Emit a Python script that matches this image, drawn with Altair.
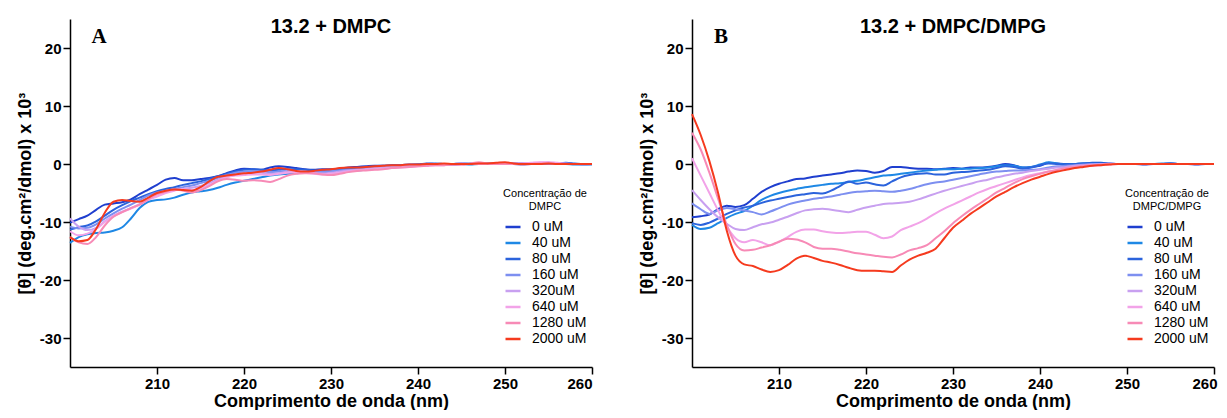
import altair as alt
import pandas as pd

wavelengths = list(range(200, 261))
concentrations = ["0 uM", "40 uM", "80 uM", "160 uM", "320uM", "640 uM", "1280 uM", "2000 uM"]
colors = ["#1f3fcf", "#1e88e5", "#2b63dc", "#7d8ff0", "#c8a0f0", "#f2a3e8", "#f78ab6", "#f53a1e"]

# Panel A: 13.2 + DMPC
A0 = [-10.1,-9.5,-8.9,-7.9,-7.0,-6.8,-6.6,-6.1,-5.2,-4.4,
      -3.6,-2.7,-2.4,-2.8,-2.8,-2.6,-2.4,-2.1,-1.6,-1.1,
      -0.8,-0.9,-1.0,-0.6,-0.4,-0.5,-0.7,-0.9,-1.0,-0.9,
      -0.9,-0.8,-0.6,-0.5,-0.4,-0.3,-0.3,-0.2,-0.2,-0.1,
      -0.1,0.1,0.0,-0.1,0.0,0.1,0.0,0.0,0.1,0.0,
      0.0,0.1,0.1,0.0,0.1,0.2,0.1,0.1,0.0,0.0,0.0]
A40 = [-13.6,-12.6,-12.1,-11.9,-11.8,-11.5,-10.9,-9.4,-7.6,-6.5,
       -6.2,-6.1,-5.8,-5.3,-4.9,-4.7,-4.5,-4.1,-3.6,-3.2,
       -2.9,-2.6,-2.3,-2.0,-1.8,-1.7,-1.6,-1.5,-1.5,-1.4,
       -1.4,-1.3,-1.2,-1.1,-1.0,-0.8,-0.6,-0.5,-0.4,-0.3,
       -0.3,-0.2,-0.1,-0.1,0.0,0.0,-0.1,0.0,0.0,0.1,
       0.0,0.0,-0.1,0.0,0.0,0.1,0.0,0.0,-0.1,-0.1,-0.1]
A80 = [-11.3,-10.9,-10.6,-9.9,-8.9,-7.9,-7.1,-6.4,-5.8,-5.2,
       -4.7,-4.3,-4.0,-3.6,-3.3,-3.0,-2.6,-2.1,-1.7,-1.3,
       -1.0,-0.9,-1.0,-1.1,-1.0,-0.9,-0.9,-1.0,-1.1,-1.1,
       -1.0,-0.9,-0.8,-0.7,-0.5,-0.4,-0.3,-0.3,-0.2,-0.2,
       -0.1,0.0,0.1,0.0,-0.1,0.0,0.1,0.1,0.0,0.0,
       0.1,0.0,0.0,0.1,0.1,0.0,0.1,0.2,0.1,0.0,0.0]
A160 = [-10.8,-11.1,-11.0,-10.4,-9.4,-8.5,-7.7,-7.0,-6.2,-5.4,
        -4.9,-4.6,-4.3,-4.0,-3.7,-3.3,-2.9,-2.4,-1.9,-1.5,
        -1.3,-1.2,-1.3,-1.4,-1.3,-1.2,-1.3,-1.4,-1.4,-1.3,
        -1.2,-1.1,-1.0,-0.9,-0.7,-0.6,-0.5,-0.4,-0.3,-0.3,
        -0.2,-0.1,0.0,0.0,-0.1,0.0,0.0,0.1,0.0,0.0,
        0.0,0.1,0.0,0.0,0.1,0.1,0.0,0.0,0.0,-0.1,0.0]
A320 = [-9.4,-10.8,-11.4,-11.0,-9.9,-8.9,-8.2,-7.6,-6.9,-6.0,
        -5.2,-4.8,-4.5,-4.3,-4.1,-3.8,-3.3,-2.7,-2.2,-1.9,
        -1.7,-1.5,-1.5,-1.7,-1.6,-1.3,-1.2,-1.3,-1.5,-1.6,
        -1.5,-1.3,-1.1,-1.0,-0.9,-0.7,-0.6,-0.5,-0.4,-0.3,
        -0.2,-0.1,-0.1,0.0,0.0,0.1,0.0,0.0,0.0,0.1,
        0.0,0.0,0.1,0.1,0.2,0.2,0.1,0.0,0.0,0.0,0.0]
A640 = [-11.6,-12.3,-12.0,-11.2,-10.0,-9.0,-8.3,-7.7,-7.0,-6.2,
        -5.6,-5.0,-4.6,-4.3,-4.5,-4.2,-3.6,-2.9,-2.3,-2.0,
        -1.9,-1.8,-1.8,-1.9,-1.7,-1.5,-1.4,-1.5,-1.7,-1.8,
        -1.7,-1.5,-1.3,-1.1,-1.0,-0.9,-0.8,-0.7,-0.6,-0.5,
        -0.4,-0.3,-0.2,-0.2,-0.1,-0.1,0.0,0.0,0.0,0.0,
        0.0,0.1,0.1,0.2,0.3,0.3,0.2,0.1,0.0,0.0,0.0]
A1280 = [-12.6,-13.5,-13.8,-12.6,-10.6,-9.1,-8.3,-7.6,-7.0,-6.1,
         -5.2,-4.8,-4.4,-4.6,-4.9,-4.5,-3.8,-3.0,-2.6,-2.7,
         -2.9,-2.8,-2.9,-3.1,-2.6,-2.0,-1.7,-1.6,-1.6,-1.8,
         -1.9,-1.7,-1.4,-1.2,-1.1,-1.0,-0.9,-0.7,-0.6,-0.5,
         -0.4,-0.3,-0.2,-0.2,-0.1,-0.1,0.1,0.3,0.1,0.0,
         0.0,0.0,-0.1,0.0,0.1,0.1,0.0,0.0,0.0,0.0,0.0]
A2000 = [-12.6,-13.3,-13.1,-11.2,-8.4,-6.5,-6.2,-6.4,-6.5,-5.8,
         -5.0,-4.6,-4.4,-4.5,-4.6,-4.0,-3.0,-2.2,-2.0,-1.8,
         -1.6,-1.5,-1.3,-1.0,-0.7,-0.9,-1.2,-1.3,-1.2,-1.0,
         -0.9,-0.7,-0.6,-0.6,-0.5,-0.4,-0.3,-0.2,-0.2,-0.1,
         -0.1,0.0,0.0,0.1,0.0,0.0,0.0,0.1,0.1,0.2,
         0.3,0.1,0.0,0.0,0.0,0.1,0.0,0.0,0.0,0.0,0.0]

# Panel B: 13.2 + DMPC/DMPG
B0 = [-9.2,-9.0,-8.7,-7.8,-7.2,-7.4,-7.1,-6.0,-4.8,-4.0,
      -3.4,-3.0,-2.6,-2.5,-2.2,-2.0,-1.8,-1.6,-1.3,-1.1,
      -1.2,-1.5,-1.2,-0.5,-0.5,-0.7,-0.8,-0.8,-0.9,-0.8,
      -0.7,-0.8,-0.6,-0.6,-0.5,-0.3,0.0,-0.2,-0.6,-0.5,
      -0.3,0.2,0.1,0.0,0.0,0.1,0.2,0.2,0.1,0.0,
      0.0,0.0,-0.1,0.0,0.0,0.1,0.0,0.0,-0.1,0.0,0.0]
B40 = [-10.5,-11.2,-11.0,-10.2,-9.3,-8.6,-8.1,-7.2,-6.2,-5.5,
       -5.0,-4.6,-4.3,-4.0,-3.8,-3.6,-3.4,-3.3,-3.1,-2.9,
       -2.6,-2.3,-2.0,-1.9,-1.7,-1.5,-1.3,-1.1,-1.0,-0.9,
       -0.9,-0.8,-0.8,-0.7,-0.6,-0.4,-0.2,-0.3,-0.6,-0.5,
       -0.1,0.3,0.1,-0.1,0.0,0.1,0.1,0.1,0.0,0.0,
       0.0,0.0,0.0,0.0,0.1,0.1,0.0,0.0,0.0,0.0,0.0]
B80 = [-10.2,-10.5,-10.1,-9.4,-8.6,-8.0,-7.5,-7.2,-6.7,-6.3,
       -6.0,-5.7,-5.4,-5.2,-5.0,-5.1,-4.6,-3.8,-3.0,-3.4,
       -3.2,-3.5,-3.7,-3.0,-2.3,-1.9,-1.7,-1.6,-1.8,-1.8,
       -1.5,-1.4,-1.3,-1.1,-1.0,-0.7,-0.4,-0.5,-0.8,-0.6,
       -0.2,0.1,0.0,-0.1,0.0,0.1,0.1,0.0,0.0,0.0,
       0.0,0.0,0.0,0.0,0.0,0.1,0.0,0.0,0.0,0.0,0.0]
B160 = [-6.8,-7.8,-8.6,-8.0,-7.6,-7.8,-8.0,-8.3,-8.7,-8.2,
        -7.6,-7.0,-6.6,-6.3,-6.0,-5.8,-5.6,-5.3,-5.0,-4.8,
        -4.7,-4.6,-4.7,-4.8,-4.6,-4.3,-3.9,-3.5,-3.2,-3.0,
        -2.7,-2.4,-2.1,-1.8,-1.5,-1.3,-1.2,-1.1,-1.1,-1.0,
        -0.9,-0.6,-0.4,-0.3,-0.2,-0.1,0.0,0.0,0.1,0.0,
        0.0,0.0,0.0,0.0,0.0,0.0,0.0,0.0,0.0,0.0,0.0]
B320 = [-4.5,-6.2,-7.8,-9.2,-10.3,-11.2,-11.4,-10.9,-10.4,-10.1,
        -9.6,-9.1,-8.5,-8.0,-7.8,-7.7,-7.9,-8.1,-8.3,-7.9,
        -7.5,-7.2,-6.9,-6.8,-6.7,-6.5,-6.1,-5.6,-5.1,-4.6,
        -4.2,-3.8,-3.4,-3.0,-2.7,-2.3,-2.0,-1.7,-1.5,-1.2,
        -1.0,-0.8,-0.6,-0.5,-0.3,-0.2,-0.1,0.0,0.0,0.0,
        0.0,0.0,0.0,0.0,0.0,0.0,0.0,0.0,0.0,0.0,0.0]
B640 = [1.0,-2.0,-5.0,-8.0,-10.8,-12.8,-13.5,-13.1,-13.5,-14.0,
        -13.4,-12.6,-11.7,-11.3,-11.3,-11.6,-11.8,-11.9,-11.8,-11.7,
        -11.7,-12.2,-12.8,-12.5,-11.4,-10.8,-10.2,-9.4,-8.5,-7.7,
        -7.0,-6.3,-5.6,-4.9,-4.3,-3.8,-3.3,-2.8,-2.3,-1.9,
        -1.6,-1.3,-1.0,-0.8,-0.6,-0.4,-0.3,-0.2,-0.1,0.0,
        0.0,0.0,0.0,0.0,0.0,0.0,0.0,0.0,0.0,0.0,0.0]
B1280 = [5.4,2.5,-1.5,-6.0,-10.5,-13.8,-14.9,-14.8,-14.4,-14.0,
         -13.4,-12.9,-13.0,-13.5,-14.3,-14.6,-14.6,-14.8,-15.1,-15.4,
         -15.6,-15.8,-16.0,-16.1,-15.6,-14.9,-14.5,-14.0,-12.8,-11.6,
         -10.2,-9.0,-7.9,-6.9,-5.9,-4.9,-4.1,-3.3,-2.6,-2.1,
         -1.7,-1.3,-1.0,-0.7,-0.5,-0.3,-0.2,-0.1,0.0,0.0,
         0.0,0.0,0.0,0.0,0.0,0.0,0.0,0.0,0.0,0.0,0.0]
B2000 = [8.6,5.0,0.5,-5.0,-11.5,-15.8,-17.3,-17.6,-18.2,-18.6,
         -18.3,-17.4,-16.3,-15.8,-16.2,-16.7,-17.0,-17.4,-17.9,-18.3,
         -18.4,-18.4,-18.5,-18.6,-17.5,-16.5,-15.8,-15.3,-14.6,-12.8,
         -11.0,-9.8,-8.6,-7.6,-6.6,-5.6,-4.8,-4.0,-3.3,-2.7,
         -2.2,-1.7,-1.3,-1.0,-0.7,-0.5,-0.3,-0.2,-0.1,0.0,
         0.0,0.0,0.0,0.0,0.0,0.0,0.0,0.0,0.0,0.0,0.0]

series_A = [A0, A40, A80, A160, A320, A640, A1280, A2000]
series_B = [B0, B40, B80, B160, B320, B640, B1280, B2000]

x_ticks = [210, 220, 230, 240, 250, 260]
y_ticks = [-30, -20, -10, 0, 10, 20]

PLOT_W = 522
PLOT_H = 348


def build_df(series):
    rows = []
    for k, (conc, vals) in enumerate(zip(concentrations, series)):
        for nm, v in zip(wavelengths, vals):
            rows.append({"nm": nm, "value": v, "conc": conc, "k": k})
    return pd.DataFrame(rows)


def panel(series, title, label, legend_title, flush):
    df = build_df(series)
    x_axis_kw = dict(values=x_ticks, title="Comprimento de onda (nm)", titlePadding=1)
    if flush:
        x_axis_kw.update(labelFlush=True, labelFlushOffset=3)
    lines = alt.Chart(df).mark_line(strokeWidth=2, interpolate="monotone").encode(
        x=alt.X("nm:Q",
                scale=alt.Scale(domain=[200, 260], nice=False, zero=False),
                axis=alt.Axis(**x_axis_kw)),
        y=alt.Y("value:Q",
                scale=alt.Scale(domain=[-35, 25], nice=False, zero=False),
                axis=alt.Axis(values=y_ticks, title="[θ] (deg.cm²/dmol) x 10³",
                              titlePadding=5, labelExpr="'' + datum.value")),
        color=alt.Color("conc:N",
                        scale=alt.Scale(domain=concentrations, range=colors),
                        sort=concentrations,
                        legend=alt.Legend(
                            title=legend_title, orient="none",
                            legendX=433, legendY=169,
                            titleFont="Liberation Sans", titleFontSize=11,
                            titleFontWeight="normal", titleColor="black",
                            titleAnchor="middle", titleAlign="center",
                            titleLineHeight=13, titlePadding=6,
                            labelFont="Liberation Sans", labelFontSize=14,
                            labelFontWeight="normal",
                            labelColor="black", labelOffset=10,
                            symbolType="stroke", symbolSize=225,
                            symbolStrokeWidth=2.5, rowPadding=-2,
                            padding=0)),
        order=alt.Order("k:Q"),
    )
    title_mark = alt.Chart(alt.Data(values=[{}])).mark_text(
        text=title, font="Liberation Sans", fontSize=20, fontWeight="bold",
        color="black", align="center", baseline="middle"
    ).encode(x=alt.value(PLOT_W / 2), y=alt.value(8))
    label_mark = alt.Chart(alt.Data(values=[{}])).mark_text(
        text=label, font="Liberation Serif", fontSize=21, fontWeight="bold",
        color="black", align="center", baseline="middle"
    ).encode(x=alt.value(29), y=alt.value(18))
    return alt.layer(lines, title_mark, label_mark).properties(width=PLOT_W, height=PLOT_H)


pA = panel(series_A, "13.2 + DMPC", "A", ["Concentração de", "DMPC"], False)
pB = panel(series_B, "13.2 + DMPC/DMPG", "B", ["Concentração de", "DMPC/DMPG"], True)

chart = alt.hconcat(pA, pB, spacing=100, bounds="flush").resolve_scale(
    color="independent"
).resolve_legend(color="independent").properties(
    padding={"left": 8, "top": 9, "right": 0, "bottom": 0}
).configure_view(stroke=None).configure_axis(
    grid=False,
    domainColor="black", domainWidth=1.5,
    tickColor="black", tickWidth=1.5, tickSize=7,
    labelFont="Liberation Sans", labelFontSize=15, labelFontWeight="bold",
    labelColor="black", labelPadding=2,
    titleFont="Liberation Sans", titleFontSize=18, titleFontWeight="bold",
    titleColor="black",
).configure_axisY(titleFontSize=18)

chart.save("out.html", embed_options={"renderer": "svg", "actions": False})
